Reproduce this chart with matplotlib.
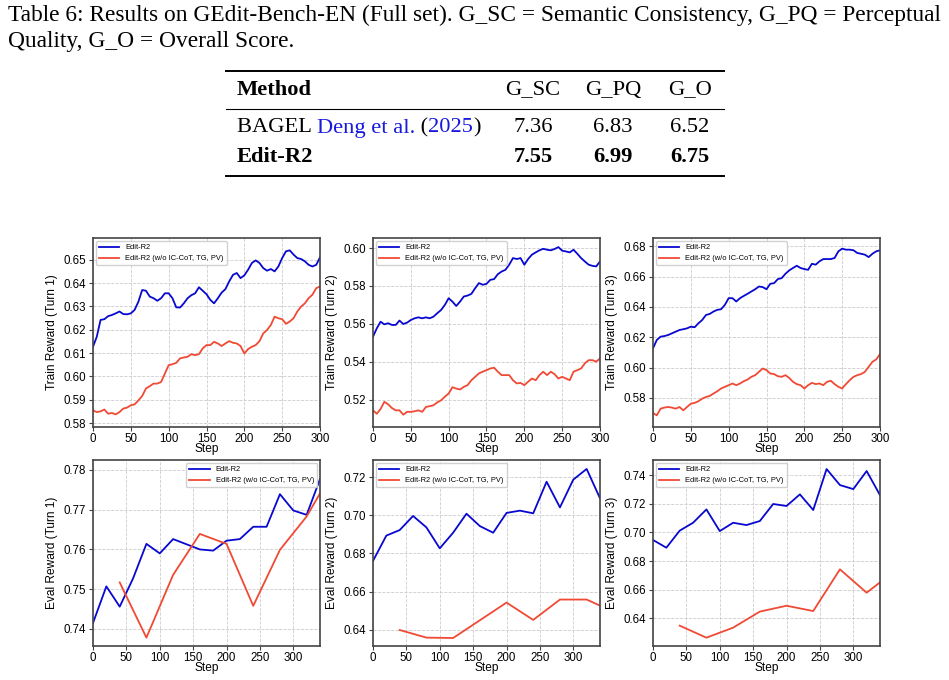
import numpy as np
import matplotlib
matplotlib.use("Agg")
import matplotlib.pyplot as plt
from matplotlib.lines import Line2D

# ---------------- data ----------------
caption_line1 = "Table 6: Results on GEdit-Bench-EN (Full set). G_SC = Semantic Consistency, G_PQ = Perceptual"
caption_line2 = "Quality, G_O = Overall Score."
table_columns = ["Method", "G_SC", "G_PQ", "G_O"]
table_methods = ["BAGEL", "Edit-R2"]
bagel_scores = [7.36, 6.83, 6.52]
editr2_scores = [7.55, 6.99, 6.75]

series_names = ["Edit-R2", "Edit-R2 (w/o IC-CoT, TG, PV)"]

train_steps = list(range(0, 301, 5))
train_t1_full = [0.6127, 0.6170, 0.6242, 0.6245, 0.6258, 0.6263, 0.6270, 0.6278, 0.6267, 0.6266,
                 0.6270, 0.6285, 0.6320, 0.6370, 0.6367, 0.6342, 0.6335, 0.6324, 0.6335, 0.6356,
                 0.6356, 0.6335, 0.6296, 0.6295, 0.6313, 0.6335, 0.6348, 0.6356, 0.6382, 0.6367,
                 0.6352, 0.6328, 0.6313, 0.6335, 0.6359, 0.6374, 0.6407, 0.6435, 0.6443, 0.6421,
                 0.6433, 0.6457, 0.6486, 0.6497, 0.6486, 0.6464, 0.6453, 0.6460, 0.6450, 0.6471,
                 0.6507, 0.6536, 0.6540, 0.6522, 0.6507, 0.6503, 0.6493, 0.6478, 0.6471, 0.6478,
                 0.6510]
train_t1_abl = [0.5854, 0.5847, 0.5850, 0.5858, 0.5840, 0.5843, 0.5837, 0.5847, 0.5862, 0.5866,
                0.5876, 0.5880, 0.5897, 0.5916, 0.5948, 0.5958, 0.5969, 0.5969, 0.5976, 0.6012,
                0.6048, 0.6052, 0.6058, 0.6077, 0.6081, 0.6084, 0.6095, 0.6091, 0.6095, 0.6120,
                0.6134, 0.6134, 0.6148, 0.6141, 0.6130, 0.6141, 0.6151, 0.6144, 0.6141, 0.6130,
                0.6098, 0.6117, 0.6127, 0.6134, 0.6151, 0.6184, 0.6199, 0.6220, 0.6256, 0.6249,
                0.6245, 0.6225, 0.6235, 0.6249, 0.6278, 0.6299, 0.6313, 0.6335, 0.6350, 0.6378,
                0.6385]
train_t2_full = [0.5532, 0.5576, 0.5611, 0.5597, 0.5603, 0.5594, 0.5594, 0.5617, 0.5599, 0.5606,
                 0.5620, 0.5629, 0.5634, 0.5629, 0.5634, 0.5629, 0.5638, 0.5656, 0.5673, 0.5700,
                 0.5735, 0.5717, 0.5694, 0.5717, 0.5744, 0.5749, 0.5758, 0.5788, 0.5815, 0.5806,
                 0.5811, 0.5832, 0.5836, 0.5862, 0.5876, 0.5885, 0.5912, 0.5947, 0.5942, 0.5947,
                 0.5912, 0.5942, 0.5965, 0.5977, 0.5988, 0.5996, 0.5991, 0.5988, 0.5995, 0.6005,
                 0.5986, 0.5982, 0.5977, 0.5991, 0.5970, 0.5947, 0.5929, 0.5912, 0.5906, 0.5903,
                 0.5929]
train_t2_abl = [0.5143, 0.5125, 0.5150, 0.5188, 0.5175, 0.5155, 0.5143, 0.5143, 0.5120, 0.5135,
                0.5135, 0.5138, 0.5143, 0.5135, 0.5161, 0.5165, 0.5170, 0.5185, 0.5196, 0.5215,
                0.5232, 0.5265, 0.5258, 0.5253, 0.5267, 0.5276, 0.5302, 0.5320, 0.5338, 0.5347,
                0.5355, 0.5364, 0.5368, 0.5347, 0.5329, 0.5329, 0.5329, 0.5302, 0.5285, 0.5288,
                0.5276, 0.5294, 0.5311, 0.5302, 0.5329, 0.5347, 0.5329, 0.5347, 0.5334, 0.5311,
                0.5320, 0.5311, 0.5302, 0.5347, 0.5355, 0.5364, 0.5391, 0.5408, 0.5408, 0.5400,
                0.5417]
train_t3_full = [0.6127, 0.6182, 0.6204, 0.6208, 0.6215, 0.6226, 0.6237, 0.6248, 0.6253, 0.6259,
                 0.6270, 0.6266, 0.6292, 0.6314, 0.6347, 0.6354, 0.6370, 0.6381, 0.6385, 0.6414,
                 0.6458, 0.6458, 0.6436, 0.6458, 0.6473, 0.6487, 0.6502, 0.6517, 0.6535, 0.6531,
                 0.6517, 0.6553, 0.6557, 0.6584, 0.6590, 0.6619, 0.6641, 0.6657, 0.6672, 0.6657,
                 0.6650, 0.6645, 0.6685, 0.6679, 0.6701, 0.6716, 0.6716, 0.6716, 0.6723, 0.6767,
                 0.6785, 0.6778, 0.6778, 0.6774, 0.6756, 0.6751, 0.6745, 0.6729, 0.6751, 0.6767,
                 0.6774]
train_t3_abl = [0.5700, 0.5685, 0.5729, 0.5736, 0.5740, 0.5736, 0.5729, 0.5740, 0.5718, 0.5740,
                0.5762, 0.5767, 0.5778, 0.5795, 0.5806, 0.5813, 0.5829, 0.5844, 0.5862, 0.5873,
                0.5884, 0.5895, 0.5884, 0.5895, 0.5910, 0.5921, 0.5939, 0.5950, 0.5972, 0.5994,
                0.5983, 0.5961, 0.5957, 0.5943, 0.5939, 0.5950, 0.5932, 0.5906, 0.5891, 0.5884,
                0.5862, 0.5884, 0.5899, 0.5891, 0.5895, 0.5884, 0.5906, 0.5913, 0.5891, 0.5873,
                0.5862, 0.5891, 0.5917, 0.5939, 0.5950, 0.5957, 0.5972, 0.6005, 0.6038, 0.6054,
                0.6089]

eval_steps_full = list(range(0, 341, 20))
eval_steps_abl = [40, 80, 120, 160, 200, 240, 280, 320, 340]
eval_t1_full = [0.7415, 0.7507, 0.7456, 0.7527, 0.7614, 0.7590, 0.7626, 0.7613, 0.7600,
                0.7597, 0.7622, 0.7626, 0.7657, 0.7657, 0.7739, 0.7698, 0.7687, 0.7777]
eval_t1_abl = [0.7517, 0.7378, 0.7536, 0.7639, 0.7614, 0.7458, 0.7599, 0.7683, 0.7741]
eval_t2_full = [0.6761, 0.6894, 0.6923, 0.6997, 0.6937, 0.6827, 0.6909, 0.7009, 0.6944,
                0.6909, 0.7013, 0.7025, 0.7011, 0.7177, 0.7042, 0.7188, 0.7244, 0.7090]
eval_t2_abl = [0.6398, 0.6358, 0.6356, 0.6449, 0.6542, 0.6451, 0.6558, 0.6558, 0.6526]
eval_t3_full = [0.6947, 0.6893, 0.7012, 0.7067, 0.7160, 0.7009, 0.7067, 0.7051, 0.7079,
                0.7198, 0.7184, 0.7265, 0.7156, 0.7442, 0.7330, 0.7302, 0.7428, 0.7260]
eval_t3_abl = [0.6349, 0.6265, 0.6335, 0.6447, 0.6488, 0.6451, 0.6742, 0.6579, 0.6651]

# ---------------- figure ----------------
W, H = 949, 680
fig = plt.figure(figsize=(W / 100, H / 100), dpi=100)
fig.patch.set_facecolor("white")

SERIF = ["Liberation Serif", "DejaVu Serif"]
SANS = ["Liberation Sans", "DejaVu Sans"]
BLUE = "#0808d0"
RED = "#f04a35"
CITE = "#1a1adc"

def fx(px):
    return px / W

def fy(py):
    return 1 - py / H

# caption
fig.canvas.draw()
renderer = fig.canvas.get_renderer()
cap1 = fig.text(fx(8), fy(15), caption_line1, family=SERIF, fontsize=14, va="center", ha="left")
bb = cap1.get_window_extent(renderer)
cap_size = 14 * (937 / bb.width)
cap1.set_fontsize(cap_size)
fig.text(fx(8), fy(42), caption_line2, family=SERIF, fontsize=cap_size, va="center", ha="left")

tsize = cap_size * 0.96
# rules
for py, lw in [(71, 1.4), (109, 0.8), (176, 1.4)]:
    fig.add_artist(Line2D([fx(226), fx(724)], [fy(py), fy(py)], lw=lw, color="black",
                          transform=fig.transFigure))

col_x = [237, 533, 613, 690]
fig.text(fx(col_x[0]), fy(90), table_columns[0], family=SERIF, fontsize=tsize,
         fontweight="bold", va="center", ha="left")
for cx, name in zip(col_x[1:], table_columns[1:]):
    fig.text(fx(cx), fy(90), name, family=SERIF, fontsize=tsize, va="center", ha="center")

# BAGEL row with citation
t = fig.text(fx(col_x[0]), fy(128), table_methods[0] + " ", family=SERIF, fontsize=tsize,
             va="center", ha="left")
x = t.get_window_extent(renderer).x1
for piece, color in [("Deng et al.", CITE), (" (", "black"), ("2025", CITE), (")", "black")]:
    tt = fig.text(x / W, fy(128), piece, family=SERIF, fontsize=tsize, va="center",
                  ha="left", color=color)
    x = tt.get_window_extent(renderer).x1
for cx, v in zip(col_x[1:], bagel_scores):
    fig.text(fx(cx), fy(128), f"{v:.2f}", family=SERIF, fontsize=tsize, va="center", ha="center")

fig.text(fx(col_x[0]), fy(157), table_methods[1], family=SERIF, fontsize=tsize,
         fontweight="bold", va="center", ha="left")
for cx, v in zip(col_x[1:], editr2_scores):
    fig.text(fx(cx), fy(157), f"{v:.2f}", family=SERIF, fontsize=tsize, va="center",
             ha="center", fontweight="bold")

# ---------------- axes ----------------
lefts = [93, 373, 653]
aw = 227
top_row = (238, 427)
bot_row = (460, 646)

def make_ax(lpx, row):
    t0, b0 = row
    return fig.add_axes([fx(lpx), fy(b0), aw / W, (b0 - t0) / H])

def style(ax, ylabel, yticks, ylim, xlim, legend_loc):
    ax.set_xlim(*xlim)
    ax.set_ylim(*ylim)
    ax.set_xticks([0, 50, 100, 150, 200, 250, 300])
    ax.set_yticks(yticks)
    ax.set_yticklabels([f"{v:.2f}" for v in yticks])
    ax.grid(True, linestyle="--", color="#cccccc", linewidth=0.6)
    ax.set_axisbelow(True)
    for s in ax.spines.values():
        s.set_color("#444444")
        s.set_linewidth(1.2)
    ax.tick_params(labelsize=8.3, length=3, width=0.8, color="#444444", pad=2)
    ax.tick_params(axis="x", pad=1)
    for lab in ax.get_xticklabels() + ax.get_yticklabels():
        lab.set_family(SANS)
    ax.set_xlabel("Step", fontsize=8.6, family=SANS, labelpad=-1)
    ax.set_ylabel(ylabel, fontsize=8.6, family=SANS, labelpad=4)
    ax.legend(loc=legend_loc, handlelength=2.7, borderaxespad=0.4,
              frameon=True, fancybox=True, framealpha=0.9, edgecolor="#cccccc",
              prop={"family": SANS, "size": 5.4})

train_sets = [
    ("Train Reward (Turn 1)", train_t1_full, train_t1_abl, np.arange(0.58, 0.6501, 0.01), (0.5783, 0.6593)),
    ("Train Reward (Turn 2)", train_t2_full, train_t2_abl, np.arange(0.52, 0.6001, 0.02), (0.5055, 0.6053)),
    ("Train Reward (Turn 3)", train_t3_full, train_t3_abl, np.arange(0.58, 0.6801, 0.02), (0.5608, 0.6855)),
]
eval_sets = [
    ("Eval Reward (Turn 1)", eval_t1_full, eval_t1_abl, np.arange(0.74, 0.7801, 0.01), (0.7357, 0.7825), "upper right"),
    ("Eval Reward (Turn 2)", eval_t2_full, eval_t2_abl, np.arange(0.64, 0.7201, 0.02), (0.6314, 0.7291), "upper left"),
    ("Eval Reward (Turn 3)", eval_t3_full, eval_t3_abl, np.arange(0.64, 0.7401, 0.02), (0.6207, 0.7505), "upper left"),
]

for lpx, (lab, full, abl, yt, yl) in zip(lefts, train_sets):
    ax = make_ax(lpx, top_row)
    ax.plot(train_steps, full, color=BLUE, lw=1.3, label=series_names[0])
    ax.plot(train_steps, abl, color=RED, lw=1.3, label=series_names[1])
    style(ax, lab, yt, yl, (0, 300), "upper left")

for lpx, (lab, full, abl, yt, yl, loc) in zip(lefts, eval_sets):
    ax = make_ax(lpx, bot_row)
    ax.plot(eval_steps_full, full, color=BLUE, lw=1.3, label=series_names[0])
    ax.plot(eval_steps_abl, abl, color=RED, lw=1.3, label=series_names[1])
    style(ax, lab, yt, yl, (0, 340), loc)

fig.savefig("out.png", dpi=100, facecolor="white")
